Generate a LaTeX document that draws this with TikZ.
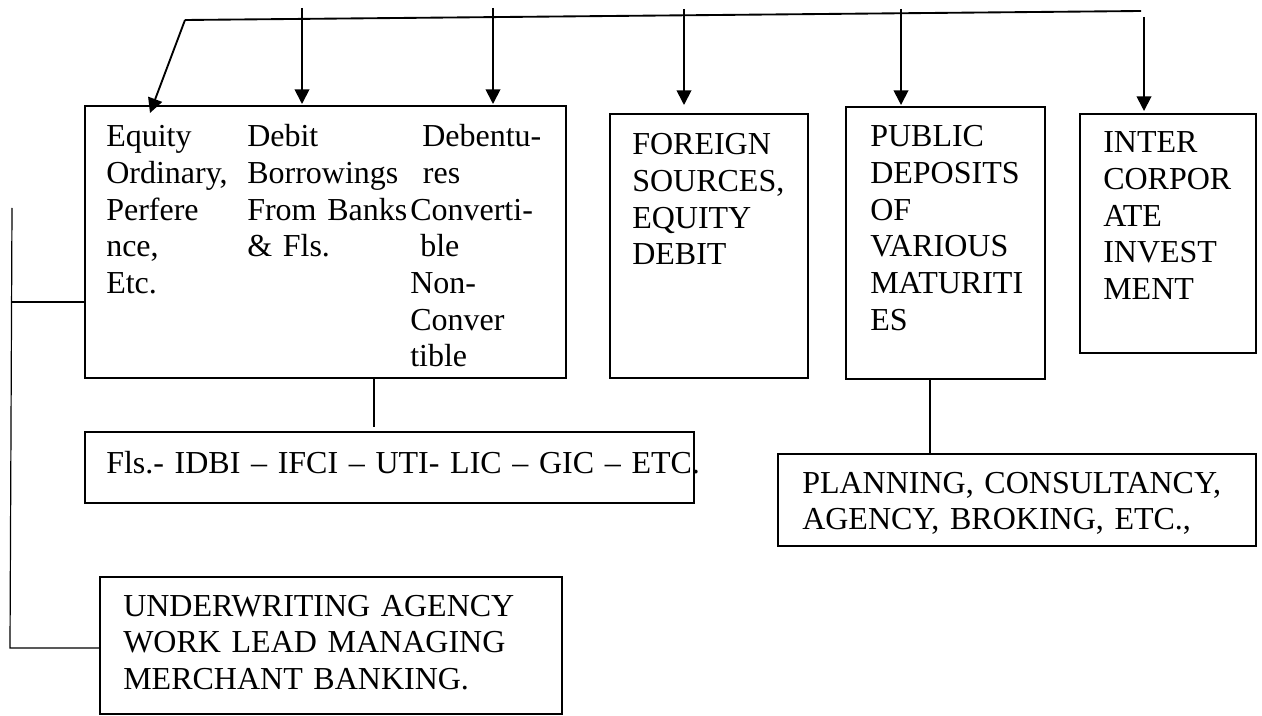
\documentclass[tikz,border=0pt]{standalone}
\usepackage{fontspec}
\setmainfont{Liberation Serif}
\usetikzlibrary{arrows.meta,fit}

\tikzset{
  box/.style={draw, line width=1.5pt, inner sep=0pt},
  txt/.style={anchor=base west, inner sep=0pt, align=left, text width=#1,
    font=\fontsize{24}{27.5}\selectfont},
  txt/.default=300pt,
  link/.style={line width=1.4pt},
  thinlink/.style={line width=0.9pt},
  arr/.style={line width=1.4pt, -{Triangle[length=11pt,width=11pt]}}
}

\begin{document}
\begin{tikzpicture}[x=0.75pt, y=-0.75pt]
  \useasboundingbox (0,0) rectangle (1262,716);

  % boxes
  \node[box, fit={(85,106) (566,378)}] (eq) {};
  \node[box, fit={(610,114) (808,378)}] (fo) {};
  \node[box, fit={(846,107) (1045,379)}] (pd) {};
  \node[box, fit={(1080,114) (1256,353)}] (ic) {};
  \node[box, fit={(85,432) (694,503)}] (fi) {};
  \node[box, fit={(778,454) (1256,546)}] (pl) {};
  \node[box, fit={(100,577) (562,714)}] (uw) {};

  % texts
  \node[txt=100pt] (eqA) at (106,147) {Equity\\Ordinary,\\Perfere\\nce,\\Etc.};
  \node[txt=150pt] (eqB) at (247,147) {Debit\\Borrowings\\From Banks\\\& Fls.};
  \node[txt=120pt] (eqC) at (410,147) {\hspace*{9pt}Debentu-\\\hspace*{9.5pt}res\\Converti-\\\hspace*{7.5pt}ble\\Non-\\Conver\\tible};
  \node[txt=140pt] (foT) at (632,155) {FOREIGN\\SOURCES,\\EQUITY\\DEBIT};
  \node[txt=140pt] (pdT) at (870,147) {PUBLIC\\DEPOSITS\\OF\\VARIOUS\\MATURITI\\ES};
  \node[txt=125pt] (icT) at (1103,153) {INTER\\CORPOR\\ATE\\INVEST\\MENT};
  \node[txt=520pt] (fiT) at (106,473) {Fls.- IDBI -- IFCI -- UTI- LIC -- GIC -- ETC.};
  \node[txt=340pt] (plT) at (802,493) {PLANNING, CONSULTANCY,\\AGENCY, BROKING, ETC.,};
  \node[txt=330pt] (uwT) at (123,616) {UNDERWRITING AGENCY\\WORK LEAD MANAGING\\MERCHANT BANKING.};

  % top line and arrows
  \coordinate (busL) at (185,20);
  \coordinate (busR) at (1141,11);
  \coordinate (eqTip) at (150,113);
  \draw[link] (busL) -- (busR);
  \draw[arr] (busL) -- (eqTip);
  \foreach \name/\x/\y in {b1/302/8, b2/493/8, b3/684/9, b4/901/9, b5/1144/17}
    \coordinate (\name) at (\x,\y);
  \foreach \src/\dst/\gap in {b1/eq/1, b2/eq/1, b3/fo/8, b4/pd/1, b5/ic/2}
    \draw[arr] (\src) -- ([yshift=\gap*0.75pt]\src |- \dst.north);

  % lower links
  \coordinate (fiIn) at (374,427);
  \draw[thinlink] (fiIn |- eq.south) -- (fiIn);
  \coordinate (plIn) at (930,454);
  \draw[link] (plIn |- pd.south) -- (plIn);

  % bracket on the left
  \coordinate (brT) at (12,208);
  \coordinate (brM) at (12,302);
  \coordinate (brB) at (10,648);
  \draw[thinlink] (brT) -- (brB) -- (brB -| uw.west);
  \draw[thinlink] (brM) -- (brM -| eq.west);
\end{tikzpicture}
\end{document}
